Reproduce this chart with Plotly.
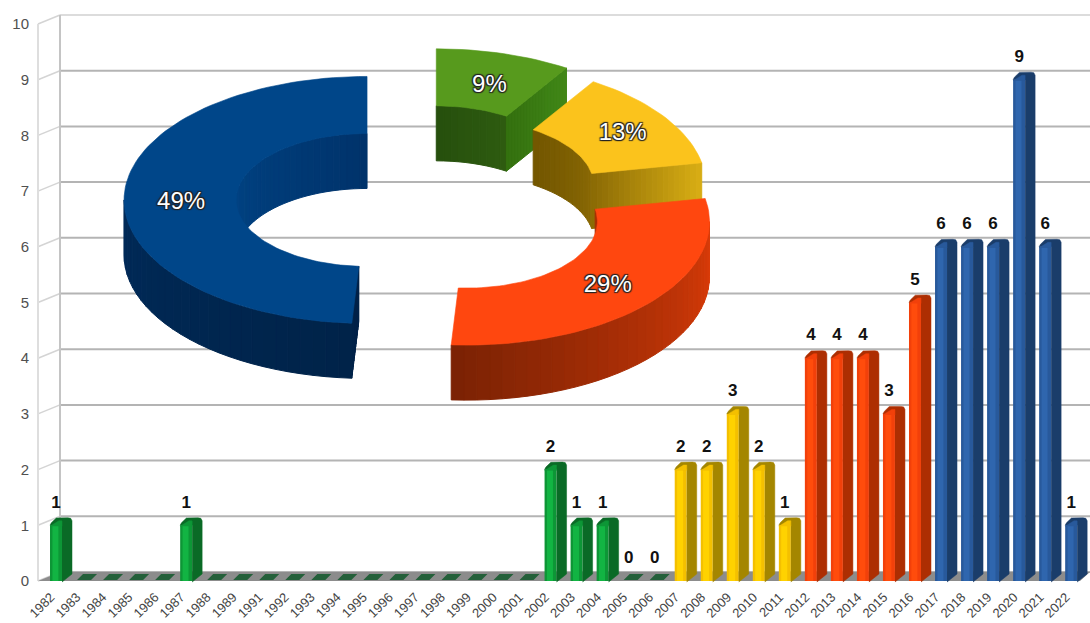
import math
import plotly.graph_objects as go

# Publications per year
years = [1982, 1983, 1984, 1985, 1986, 1987, 1988, 1989, 1991, 1992, 1993, 1994, 1995, 1996,
         1997, 1998, 1999, 2000, 2001, 2002, 2003, 2004, 2005, 2006, 2007, 2008, 2009, 2010,
         2011, 2012, 2013, 2014, 2015, 2016, 2017, 2018, 2019, 2020, 2021, 2022]
counts = [1, 0, 0, 0, 0, 1, 0, 0, 0, 0, 0, 0, 0, 0,
          0, 0, 0, 0, 0, 2, 1, 1, 0, 0, 2, 2, 3, 2,
          1, 4, 4, 4, 3, 5, 6, 6, 6, 9, 6, 1]

# Share of each period, clockwise from twelve o'clock
share_labels = ["9%", "13%", "29%", "49%"]
share_values = [9, 13, 29, 49]
share_pull = [0.24, 0.214, 0.255, 0.218]

W, H = 1090, 623
SLOT = 26.03       # pixels per year slot
X0 = 56.0          # pixel of the first slot
Y0 = 581.0         # pixel of value 0 on the front plane
UNIT = 55.7        # pixels per count
DEPTH_X, DEPTH_Y = 22.0, 9.0   # wall and floor depth


def px_x(px):
    return (px - X0) / SLOT


def px_h(px):
    return px / UNIT


def period(year):
    if year <= 2006:
        return 0
    if year <= 2011:
        return 1
    if year <= 2016:
        return 2
    return 3


BAR_BASE = ["#0d9636", "#f4c000", "#f2400a", "#28599b"]
BAR_LIGHT = ["#12b443", "#ffd200", "#ff4c0c", "#2f66ae"]
BAR_SIDE = ["#0a6a26", "#a48600", "#ad2e02", "#1a3d6a"]
bar_colors = [BAR_BASE[period(y)] for y in years]
light_colors = [BAR_LIGHT[period(y)] for y in years]

slots = list(range(len(years)))
half = px_x(X0 + 6)
fig = go.Figure()

# Front faces of the bars, with a lighter strip down the middle
fig.add_bar(x=slots, y=counts, width=2 * half, offset=-half, marker=dict(color=bar_colors, line_width=0),
            hoverinfo="skip", showlegend=False)
fig.add_bar(x=slots, y=counts, width=half, offset=-half * 0.6, marker=dict(color=light_colors, line_width=0),
            hoverinfo="skip", showlegend=False)

# Side and rounded top of each bar
for group in range(4):
    xs, ys, cx, cy = [], [], [], []
    for i, v in zip(slots, counts):
        if period(years[i]) != group or v == 0:
            continue
        r = px_x(X0 + 6)
        back = px_x(X0 + 16)
        lift = px_h(7)
        xs += [i + r, i + back, i + back, i + back - 0.05, i + back - 0.16, i + r - 0.22, i - r + 0.05, i - r,
               i + r, None]
        ys += [0 - px_h(1), lift, v + lift - px_h(2.5), v + lift, v + lift + px_h(0.5), v + lift + px_h(0.3),
               v + px_h(2.5), v, v, None]
        cx += [i - r, i - r + 0.1, i + r - 0.12, i + r, i + r, None]
        cy += [v - px_h(1), v + px_h(0.8), v + px_h(4.5), v + px_h(4.5), v - px_h(1), None]
    fig.add_scatter(x=xs, y=ys, mode="lines", fill="toself", fillcolor=BAR_SIDE[group],
                    line=dict(width=0.5, color=BAR_SIDE[group]), hoverinfo="skip", showlegend=False)
    fig.add_scatter(x=cx, y=cy, mode="lines", fill="toself", fillcolor=BAR_BASE[group],
                    line=dict(width=0.5, color=BAR_BASE[group]), hoverinfo="skip", showlegend=False)

# Years without publications leave a flat tile on the floor
zx, zy = [], []
for i, v in zip(slots, counts):
    if v == 0:
        a, b = px_x(X0 - 5), px_x(X0 + 9)
        skew = px_x(X0 + 6)
        zx += [i + a, i + b, i + b + skew, i + a + skew, None]
        zy += [px_h(1), px_h(1), px_h(7), px_h(7), None]
fig.add_scatter(x=zx, y=zy, mode="lines", fill="toself", fillcolor="#24603a",
                line=dict(width=0, color="#24603a"), hoverinfo="skip", showlegend=False)

# Value labels above the bars
labelled = [i for i, y in zip(slots, years) if y in (1982, 1987) or y >= 2002]
fig.add_scatter(x=labelled, y=[counts[i] + px_h(22) for i in labelled], text=[str(counts[i]) for i in labelled],
                mode="text", textposition="middle center",
                textfont=dict(family="Liberation Sans", size=17, color="#111111", weight="bold"),
                hoverinfo="skip", showlegend=False)


def hex_rgb(c):
    return tuple(int(c[k:k + 2], 16) for k in (1, 3, 5))


def blend(c0, c1, t):
    a, b = hex_rgb(c0), hex_rgb(c1)
    return "rgb({},{},{})".format(*(round(p + (q - p) * t) for p, q in zip(a, b)))


# Exploded ring drawn as an extruded solid in pixel space
RING_X, RING_Y = 420.0, 200.8
OUT_A, OUT_B = 243.0, 123.5
IN_A, IN_B = 131.0, 66.5
RING_DEPTH = 55.0
LABEL_NUDGE = [(1, 5), (5, 1), (1, 2), (1, 6)]
SLICE_STYLE = [
    dict(top="#579a1d", inner=("#264f0d", "#2e5c10"), outer=("#2e5c10", "#2e5c10"),
         end=("#34700f", "#418718"), start=("#264f0d", "#264f0d")),
    dict(top="#fbc31c", inner=("#735600", "#8a6a05"), outer=("#8a6a05", "#8a6a05"),
         end=("#8a6a05", "#d9ae14"), start=("#735600", "#735600")),
    dict(top="#ff470f", inner=("#a63004", "#a63004"), outer=("#de3c08", "#7a2204"),
         end=("#7a2204", "#7a2204"), start=("#a63004", "#a63004")),
    dict(top="#004689", inner=("#004485", "#00336b"), outer=("#002349", "#002a58"),
         end=("#002349", "#002349"), start=("#002349", "#002349")),
]


def ring_point(centre, a, b, deg, drop=0.0):
    rad = math.radians(deg)
    return centre[0] + a * math.sin(rad), centre[1] - b * math.cos(rad) + drop


def quad(p0, p1, p2, p3, color):
    fig.add_scatter(x=[p0[0], p1[0], p2[0], p3[0], p0[0]], y=[p0[1], p1[1], p2[1], p3[1], p0[1]],
                    mode="lines", fill="toself", fillcolor=color, line=dict(width=1.0, color=color),
                    xaxis="x2", yaxis="y2", hoverinfo="skip", showlegend=False)


def wall(centre, a, b, lo, hi, colors):
    if hi <= lo:
        return
    n = max(2, int((hi - lo) / 3))
    for k in range(n):
        d0 = lo + (hi - lo) * k / n
        d1 = lo + (hi - lo) * (k + 1) / n
        quad(ring_point(centre, a, b, d0), ring_point(centre, a, b, d1),
             ring_point(centre, a, b, d1, RING_DEPTH), ring_point(centre, a, b, d0, RING_DEPTH),
             blend(colors[0], colors[1], (k + 0.5) / n))


def radial(centre, deg, colors):
    n = 20
    for k in range(n):
        t0, t1 = k / n, (k + 1) / n
        a0, b0 = IN_A + (OUT_A - IN_A) * t0, IN_B + (OUT_B - IN_B) * t0
        a1, b1 = IN_A + (OUT_A - IN_A) * t1, IN_B + (OUT_B - IN_B) * t1
        quad(ring_point(centre, a0, b0, deg), ring_point(centre, a1, b1, deg),
             ring_point(centre, a1, b1, deg, RING_DEPTH), ring_point(centre, a0, b0, deg, RING_DEPTH),
             blend(colors[0], colors[1], (k + 0.5) / n))


total = sum(share_values)
angle = 0.0
label_x, label_y = [], []
for value, pull, style, nudge in zip(share_values, share_pull, SLICE_STYLE, LABEL_NUDGE):
    start = angle
    end = angle + 360.0 * value / total
    angle = end
    mid = math.radians((start + end) / 2)
    centre = (RING_X + pull * OUT_A * math.sin(mid), RING_Y - pull * OUT_B * math.cos(mid))

    # Only the faces turned towards the viewer
    wall(centre, OUT_A, OUT_B, max(start, 90), min(end, 270), style["outer"])
    wall(centre, IN_A, IN_B, start, min(end, 90), style["inner"])
    wall(centre, IN_A, IN_B, max(start, 270), end, style["inner"])
    if 0 < end < 180:
        radial(centre, end, style["end"])
    if 180 < start < 360:
        radial(centre, start, style["start"])

    steps = max(4, int((end - start) / 2))
    degs = [start + (end - start) * k / steps for k in range(steps + 1)]
    outer_pts = [ring_point(centre, OUT_A, OUT_B, d) for d in degs]
    inner_pts = [ring_point(centre, IN_A, IN_B, d) for d in reversed(degs)]
    poly = outer_pts + inner_pts + outer_pts[:1]
    fig.add_scatter(x=[p[0] for p in poly], y=[p[1] for p in poly], mode="lines", fill="toself",
                    fillcolor=style["top"], line=dict(width=0.6, color=style["top"]),
                    xaxis="x2", yaxis="y2", hoverinfo="skip", showlegend=False)

    lab = ring_point(centre, (OUT_A + IN_A) / 2, (OUT_B + IN_B) / 2, math.degrees(mid))
    label_x.append(lab[0] + nudge[0])
    label_y.append(lab[1] + nudge[1])

fig.add_scatter(x=label_x, y=label_y, text=share_labels, mode="text", textposition="middle center",
                textfont=dict(family="Liberation Sans", size=24, color="#ffffff",
                              shadow="1px 1px 1px #222, -1px -1px 1px #222, 1px -1px 1px #222, -1px 1px 1px #222"),
                xaxis="x2", yaxis="y2", hoverinfo="skip", showlegend=False)

# Back wall, side wall and floor sit underneath everything
shapes = []
LEFT_FRONT, LEFT_BACK = 38.0, 60.0


def y_front(v):
    return Y0 - UNIT * v


for v in range(0, 11):
    color = "#dcdcdc" if v == 10 else "#b4b4b4"
    shapes.append(dict(type="line", xref="x2", yref="y2", layer="below", x0=LEFT_BACK, x1=W,
                       y0=y_front(v) - DEPTH_Y, y1=y_front(v) - DEPTH_Y, line=dict(color=color, width=2)))
    shapes.append(dict(type="line", xref="x2", yref="y2", layer="below", x0=LEFT_FRONT, x1=LEFT_BACK,
                       y0=y_front(v), y1=y_front(v) - DEPTH_Y, line=dict(color="#d4d4d4", width=1.5)))
shapes.append(dict(type="line", xref="x2", yref="y2", layer="below", x0=LEFT_FRONT, x1=LEFT_FRONT,
                   y0=y_front(10), y1=y_front(0), line=dict(color="#dedede", width=2)))
shapes.append(dict(type="line", xref="x2", yref="y2", layer="below", x0=LEFT_BACK, x1=LEFT_BACK,
                   y0=y_front(10) - DEPTH_Y, y1=y_front(0) - DEPTH_Y, line=dict(color="#c4c4c4", width=2)))
shapes.append(dict(type="path", xref="x2", yref="y2", layer="below",
                   path=f"M {LEFT_FRONT} {y_front(0)} L {LEFT_BACK} {y_front(0) - DEPTH_Y} "
                        f"L {W} {y_front(0) - DEPTH_Y} L {W - 10} {y_front(0)} Z",
                   fillcolor="#8c8c8c", line=dict(width=0)))

fig.update_layout(
    width=W, height=H, margin=dict(l=0, r=0, t=0, b=0), autosize=False,
    paper_bgcolor="#ffffff", plot_bgcolor="#ffffff", barmode="overlay", showlegend=False,
    shapes=shapes,
    xaxis=dict(domain=[0, 1], range=[px_x(0), px_x(W)], anchor="free", position=(H - 586) / H,
               automargin=False, tickmode="array", tickvals=[i - 0.2 for i in slots],
               ticktext=[str(y) for y in years], tickangle=-45, showgrid=False, zeroline=False,
               showline=False, ticks="", tickfont=dict(family="Liberation Sans", size=13, color="#444444")),
    yaxis=dict(domain=[0, 1], range=[(Y0 - H) / UNIT, Y0 / UNIT], anchor="free", position=29 / W,
               automargin=False, tickmode="array", tickvals=list(range(0, 11)), showgrid=False, zeroline=False,
               showline=False, ticks="",
               tickfont=dict(family="Liberation Sans", size=15, color="#505050")),
    xaxis2=dict(overlaying="x", range=[0, W], visible=False),
    yaxis2=dict(overlaying="y", range=[H, 0], visible=False),
)

fig.write_html("out.html")
